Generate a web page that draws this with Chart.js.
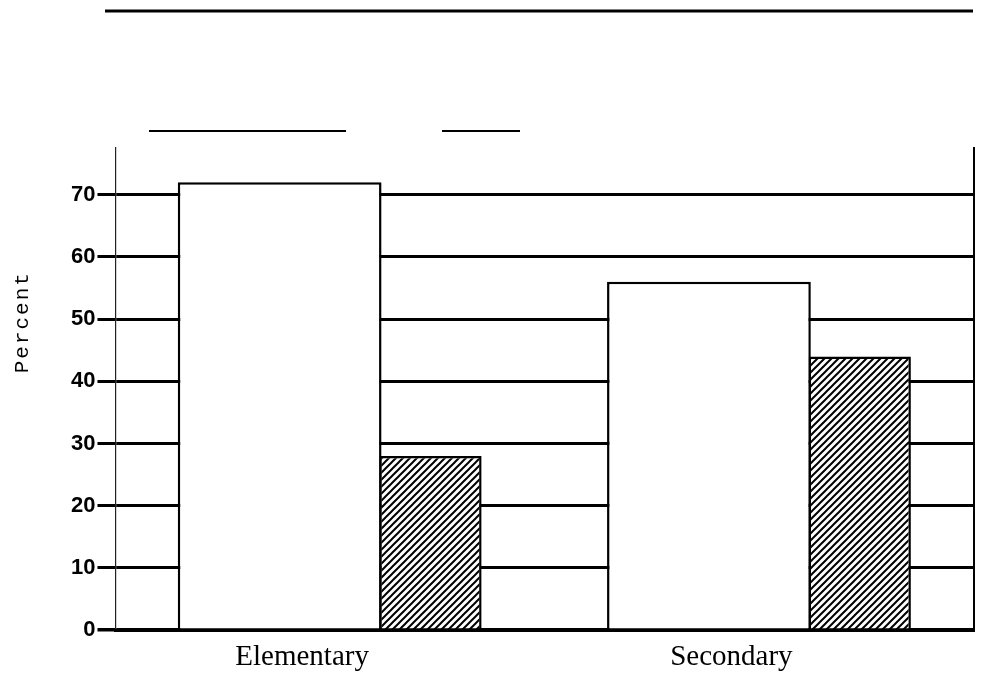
<!DOCTYPE html>
<html>
<head>
<meta charset="utf-8">
<script src="https://cdn.jsdelivr.net/npm/chart.js@4"></script>
<style>
  html, body { margin: 0; padding: 0; background: #fff; }
</style>
</head>
<body>
<canvas id="chart" width="982" height="684"></canvas>
<script>
const categories = ['Elementary', 'Secondary'];
const plainBars = [72, 56];
const hatchedBars = [28, 44];
const yTicks = [0, 10, 20, 30, 40, 50, 60, 70];
const yLabel = 'Percent';

// diagonal "/" hatch used for the second series
function makeHatch() {
    const size = 7;
    const c = document.createElement('canvas');
    c.width = size;
    c.height = size;
    const g = c.getContext('2d');
    g.fillStyle = '#fff';
    g.fillRect(0, 0, size, size);
    g.strokeStyle = '#000';
    g.lineWidth = 2;
    g.beginPath();
    g.moveTo(0, size); g.lineTo(size, 0);
    g.moveTo(-2, 2); g.lineTo(2, -2);
    g.moveTo(size - 2, size + 2); g.lineTo(size + 2, size - 2);
    g.stroke();
    return g.createPattern(c, 'repeat');
}

function strokeLine(ctx, x1, y1, x2, y2) {
    ctx.beginPath();
    ctx.moveTo(x1, y1);
    ctx.lineTo(x2, y2);
    ctx.stroke();
}

// rules above the plot and the rotated axis label
const decor = {
    id: 'decor',
    beforeDraw(chart) {
        const ctx = chart.ctx;
        ctx.save();
        ctx.strokeStyle = '#000';
        ctx.lineWidth = 3;
        strokeLine(ctx, 105, 11, 973, 11);
        ctx.lineWidth = 2;
        strokeLine(ctx, 149, 131, 346, 131);
        strokeLine(ctx, 442, 131, 520, 131);

        const cy = chart.scales.y.getPixelForValue(49.5);
        ctx.translate(22, cy);
        ctx.rotate(-Math.PI / 2);
        ctx.font = '21px "Liberation Mono"';
        ctx.letterSpacing = '2px';
        ctx.fillStyle = '#000';
        ctx.textAlign = 'center';
        ctx.textBaseline = 'middle';
        ctx.fillText(yLabel, 0, 0);
        ctx.restore();
    }
};

const ctx = document.getElementById('chart').getContext('2d');

new Chart(ctx, {
    type: 'bar',
    data: {
        labels: categories,
        datasets: [
            {
                label: 'Series 1',
                data: plainBars,
                backgroundColor: '#fff',
                borderColor: '#000',
                borderWidth: 2.5,
                categoryPercentage: 0.47,
                barPercentage: 2.02
            },
            {
                label: 'Series 2',
                data: hatchedBars,
                backgroundColor: makeHatch(),
                borderColor: '#000',
                borderWidth: 2.5,
                categoryPercentage: 0.935,
                barPercentage: 0.51
            }
        ]
    },
    options: {
        responsive: false,
        animation: false,
        layout: {
            padding: { left: 69, right: 0, top: 148, bottom: 7 }
        },
        plugins: {
            legend: { display: false },
            tooltip: { enabled: false }
        },
        scales: {
            x: {
                grid: { display: false },
                border: { display: true, color: '#000', width: 3, z: 1 },
                ticks: {
                    color: '#000',
                    padding: 2,
                    labelOffset: -28,
                    maxRotation: 0,
                    font: { family: 'Liberation Serif', size: 29 }
                }
            },
            y: {
                min: 0,
                max: 77.5,
                afterBuildTicks: s => { s.ticks = yTicks.map(v => ({ value: v })); },
                grid: {
                    color: '#000',
                    lineWidth: c => (c.tick && c.tick.value === 0 ? 3.5 : 3),
                    tickLength: 18
                },
                border: { display: true, color: '#222', width: 1.2 },
                ticks: {
                    color: '#000',
                    padding: 2,
                    font: { family: 'Liberation Sans', size: 22, weight: 'bold' }
                }
            },
            y2: {
                position: 'right',
                min: 0,
                max: 77.5,
                grid: { display: false },
                ticks: { display: false, padding: 0 },
                border: { display: true, color: '#000', width: 2 }
            }
        }
    },
    plugins: [decor]
});
</script>
</body>
</html>
